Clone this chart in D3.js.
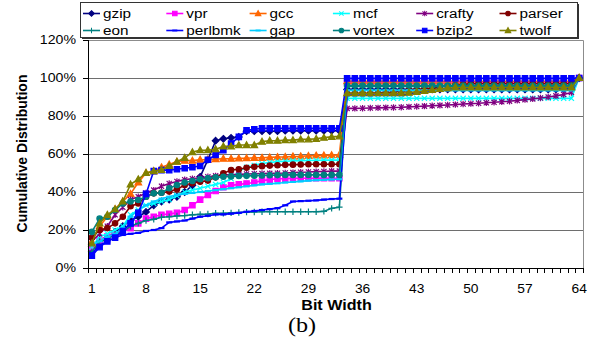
<!DOCTYPE html>
<html>
<head>
<meta charset="utf-8">
<script src="https://cdn.jsdelivr.net/npm/d3@7"></script>
<style>
body { margin: 0; background: #fff; }
svg { display: block; }
</style>
</head>
<body>
<script>
var W = 593, H = 341;

// categories: bit width 1..64
var bits = d3.range(1, 65);
var xTickLabels = [1, 8, 15, 22, 29, 36, 43, 50, 57, 64];
var yTickValues = [0, 20, 40, 60, 80, 100, 120];

var names = ["gzip", "vpr", "gcc", "mcf", "crafty", "parser", "eon", "perlbmk", "gap", "vortex", "bzip2", "twolf"];
var colors = ["#000080", "#ff00ff", "#ff6600", "#00ffff", "#800080", "#800000", "#008080", "#0000ff", "#00ccff", "#008080", "#0000ff", "#808000"];
var markers = ["diamond", "square", "triangle", "x", "star", "circle", "plus", "dash", "dash", "circle", "square", "triangle"];

// cumulative distribution (%) per bit width
var gzip = [8.5,13,16,19,22,25,27,29.5,33,35,36,37.5,40,43.5,48,57,67,68,68.5,69,72,72,72,72,72,72.3,72.3,72.3,72.3,72.3,72.3,72.3,72.3,
  94,94,94,94,94,94,94,94,94,94,94,94,94,94,94,94,94,94,94,94,94,94,94,94,94,94,94,94,94,94,100];
var vpr = [11,14.5,16.5,17.5,19,21,23.5,26,27,28,28.5,29,30.5,33,36,38.5,40.5,42.5,43.5,44,44.5,45,46,46.5,47,47,47.2,47.2,47.2,47.2,47.2,47.2,47.2,
  97.5,97.5,97.5,97.5,97.5,97.5,97.5,97.5,97.5,97.5,97.5,97.5,97.5,97.5,97.5,97.5,97.5,97.5,97.5,97.5,97.5,97.5,97.5,97.5,97.5,97.5,97.5,97.5,97.5,97.5,100];
var gcc = [14,22,27,31,35,39,45,50,51,53,54.5,56,56.5,56.5,57,57,57.3,57.5,57.5,57.7,57.8,58,58,58.2,58.4,58.5,58.7,58.8,59,59.2,59.3,59.4,59.5,
  98.3,98.3,98.3,98.3,98.3,98.3,98.3,98.3,98.3,98.3,98.3,98.3,98.3,98.3,98.3,98.3,98.3,98.3,98.3,98.3,98.3,98.3,98.3,98.3,98.3,98.3,98.3,98.3,98.3,98.3,100];
var mcf = [11,16.5,18,20,22,28,30.5,33,34,35,36,38,40,41,42,43,44,45,47,51,53,54,55,55.5,56,56.2,56.4,56.5,56.6,56.7,56.8,56.8,56.8,
  89.3,89.3,89.3,89.3,89.3,89.3,89.3,89.3,89.3,89.3,89.3,89.3,89.3,89.3,89.3,89.3,89.3,89.3,89.3,89.3,89.3,89.3,89.3,89.3,89.3,89.3,89.3,89.3,89.3,89.3,100];
var crafty = [14,18,22,28,32,36,37.5,39.5,41,43,44.5,45.5,46.5,47,47.5,48,48.5,49,49,49.3,49.5,49.6,49.7,49.8,49.9,50,50.2,50.4,50.5,50.7,50.8,51,51,
  84,84,84.1,84.2,84.3,84.4,84.5,84.6,84.8,85,85.2,85.4,85.6,85.8,86,86.3,86.5,86.7,87,87.2,87.5,87.8,88.2,88.6,89,89.5,90,90.6,91.3,92.4,100];
var parser = [16,20,21,23.5,27,32.5,34,37.5,39.3,39.6,40.2,41.4,43.7,44.6,45.4,46,47.7,49.8,51.6,52,52.8,53.3,53.6,53.9,54.1,54.3,54.4,54.5,54.6,54.6,54.6,54.6,54.6,
  92,92,92,92,92.2,92.4,92.6,93,93.4,93.8,94.3,94.8,95.3,95.8,96.2,96.6,97,97,97,97,97,97,97,97,97,97,97,97,97,97,100];
var eon = [8.5,14,15.5,17.5,19,22,23.5,25,25.6,26.7,27,27.4,27.6,28,28.2,28.4,28.8,28.8,29,29.2,29.4,29.5,29.6,29.6,29.6,29.6,29.6,29.6,29.6,29.6,29.8,31.4,32,
  95.5,95.5,95.5,95.5,95.5,95.5,95.5,95.5,95.5,95.5,95.5,95.5,95.5,95.5,95.5,95.5,95.5,95.5,95.5,95.5,95.5,95.5,95.5,95.5,95.5,95.5,95.5,95.5,95.5,95.5,100];
var perlbmk = [7.5,12,14,16,17.4,18,18.5,19.5,20,21,24,24.5,25,26,27,27.5,28.2,28.2,28.6,29,29.6,30,30.5,31,31.5,33,35,35.2,35.4,35.6,36,36.3,36.5,
  91,91,91,91,91,91,91,91,91.5,92,92.5,93,93.5,94,94.3,94.5,94.5,94.5,94.5,94.5,94.5,94.5,94.5,94.5,94.5,94.5,94.5,94.5,94.5,94.5,100];
var gap = [12,14,16.5,18,21,27,30.5,33,35,36.5,37.5,38.5,39,39.5,40,40.5,41,41.5,42,42.5,43,43.5,44,44.3,44.6,45,45.3,45.6,46,46.2,46.4,46.6,46.7,
  93.5,93.5,93.5,93.5,93.5,93.5,93.5,93.5,93.5,93.5,93.5,93.5,93.5,93.5,93.5,93.5,93.5,93.5,93.5,93.5,93.5,93.5,93.5,93.5,93.5,93.5,93.5,93.5,93.5,93.5,100];
var vortex = [19,26,27,30.5,34,35,35.8,37.5,39.3,39.6,42,43.7,45,45.8,46.7,47.2,47.7,48,48.2,48.4,48.5,48.6,48.7,48.8,48.9,49,49,49,49,49,49,49,49,
  96,96,96,96,96,96,96,96,96,96,96,96,96,96,96,96,96,96,96,96,96,96,96,96,96,96,96,96,96,96,100];
var bzip2 = [6.5,11,14,16,19.5,23.5,29,39,51,51.5,51.5,52,52.5,53,53.7,57,59.5,62,65.5,69,72.5,73,73.5,73.5,73.5,73.5,73.5,73.5,73.5,73.5,73.5,73.5,73.5,
  99.8,99.8,99.8,99.8,99.8,99.8,99.8,99.8,99.8,99.8,99.8,99.8,99.8,99.8,99.8,99.8,99.8,99.8,99.8,99.8,99.8,99.8,99.8,99.8,99.8,99.8,99.8,99.8,99.8,99.8,100];
var twolf = [13,23.5,28,31,35,44,46.7,50,51,51.6,53.7,56,58,61,62,62,62.5,64,64,64.7,64.7,64.7,66.5,67,67,67.3,67.3,67.7,67.7,68,68.6,69,69.3,
  92,92,92,92,92,92,92,92,92.3,92.7,93.2,93.7,94.2,94.6,95,95,95,95,95,95,95,95,95,95,95,95,95,95,95,95,100];

var seriesValues = [gzip, vpr, gcc, mcf, crafty, parser, eon, perlbmk, gap, vortex, bzip2, twolf];

var font = "Arial, 'Liberation Sans', sans-serif";
var stretch = 1.15; // text in the picture is a little wider than tall

var svg = d3.select("body").append("svg")
  .attr("width", W)
  .attr("height", H);

var plotLeft = 88, plotRight = 583, plotTop = 40, plotBottom = 268;

var x = d3.scaleBand().domain(bits).range([plotLeft, plotRight]).paddingInner(0).paddingOuter(0);
var y = d3.scaleLinear().domain([0, 120]).range([plotBottom, plotTop]);

function cx(d) { return x(d) + x.bandwidth() / 2; }

function addText(g, tx, ty, str, size, anchor, weight, family, sx) {
  g.append("g")
    .attr("transform", "translate(" + tx + "," + ty + ") scale(" + sx + ",1)")
    .append("text")
    .attr("text-anchor", anchor)
    .style("font-family", family)
    .style("font-size", size + "px")
    .style("font-weight", weight)
    .attr("fill", "#000")
    .text(str);
}

function markerPath(type) {
  switch(type) {
    case "square": return "M-2.7,-2.7h5.4v5.4h-5.4z";
    case "diamond": return "M0,-3.3L3.3,0L0,3.3L-3.3,0Z";
    case "triangle": return "M0,-3.4L3.3,2.5L-3.3,2.5Z";
    case "circle": return "M2.7,0A2.7,2.7 0 1,1 -2.7,0A2.7,2.7 0 1,1 2.7,0Z";
    case "x": return "M-2.6,-2.6L2.6,2.6M-2.6,2.6L2.6,-2.6";
    case "star": return "M-2.6,-2.6L2.6,2.6M-2.6,2.6L2.6,-2.6M0,-3.2L0,3.2";
    case "plus": return "M-3.2,0H3.2M0,-3.2V3.2";
    case "dash": return "M-3,0H3";
  }
}
function isFilled(type) {
  return type === "square" || type === "diamond" || type === "triangle" || type === "circle";
}

// gridlines
svg.append("g").selectAll("line")
  .data([20, 40, 60, 80, 100])
  .enter()
  .append("line")
  .attr("x1", plotLeft)
  .attr("x2", plotRight)
  .attr("y1", d => Math.round(y(d)) + 0.5)
  .attr("y2", d => Math.round(y(d)) + 0.5)
  .attr("stroke", "#6e6e6e")
  .attr("stroke-width", 1);

// frame (top, right)
svg.append("path")
  .attr("d", "M" + plotLeft + "," + (plotTop + 0.5) + "H" + (plotRight + 0.5) + "V" + plotBottom)
  .attr("fill", "none")
  .attr("stroke", "#8c8c8c")
  .attr("stroke-width", 1);

// series
var lineGen = d3.line()
  .x((d, i) => cx(bits[i]))
  .y(d => y(d));

var plot = svg.append("g");
for(let k = 0; k < names.length; k++) {
  let g = plot.append("g");
  g.append("path")
    .datum(seriesValues[k])
    .attr("d", lineGen)
    .attr("fill", "none")
    .attr("stroke", colors[k])
    .attr("stroke-width", 1.6)
    .attr("stroke-linejoin", "round");
  g.selectAll("path.m")
    .data(seriesValues[k])
    .enter()
    .append("path")
    .attr("class", "m")
    .attr("transform", (d, i) => "translate(" + cx(bits[i]) + "," + y(d) + ")")
    .attr("d", markerPath(markers[k]))
    .attr("fill", isFilled(markers[k]) ? colors[k] : "none")
    .attr("stroke", colors[k])
    .attr("stroke-width", markers[k] === "dash" ? 2.2 : 1.2);
}

// axes
var axes = svg.append("g");
axes.append("line")
  .attr("x1", plotLeft + 0.5).attr("x2", plotLeft + 0.5)
  .attr("y1", plotTop).attr("y2", plotBottom + 5)
  .attr("stroke", "#000");
axes.append("line")
  .attr("x1", plotLeft - 5).attr("x2", plotRight + 1)
  .attr("y1", plotBottom + 0.5).attr("y2", plotBottom + 0.5)
  .attr("stroke", "#000");

// y ticks and labels
axes.selectAll("line.yt")
  .data(yTickValues)
  .enter()
  .append("line")
  .attr("class", "yt")
  .attr("x1", plotLeft - 5).attr("x2", plotLeft)
  .attr("y1", d => Math.round(y(d)) + 0.5)
  .attr("y2", d => Math.round(y(d)) + 0.5)
  .attr("stroke", "#000");
yTickValues.forEach(v => addText(axes, 76, y(v) + 4.3, v + "%", 12.3, "end", "normal", font, stretch));

// x ticks at category boundaries
var boundaries = bits.map(b => x(b)).concat([plotRight]);
axes.selectAll("line.xt")
  .data(boundaries)
  .enter()
  .append("line")
  .attr("class", "xt")
  .attr("x1", d => Math.round(d) + 0.5).attr("x2", d => Math.round(d) + 0.5)
  .attr("y1", plotBottom).attr("y2", plotBottom + 5)
  .attr("stroke", "#000");
xTickLabels.forEach(v => addText(axes, cx(v), 292.5, String(v), 12, "middle", "normal", font, stretch));

// axis titles
addText(svg, (plotLeft + plotRight) / 2 + 1, 310, "Bit Width", 14, "middle", "bold", font, stretch);
svg.append("text")
  .attr("transform", "translate(26.5,153.5) rotate(-90)")
  .attr("text-anchor", "middle")
  .style("font-family", font)
  .style("font-size", "14px")
  .style("font-weight", "bold")
  .text("Cumulative Distribution");

addText(svg, 302, 331.5, "(b)", 21, "middle", "normal", "'Liberation Serif', 'Times New Roman', serif", 1.15);

// legend
var legend = svg.append("g");
legend.append("rect")
  .attr("x", 82).attr("y", 4).attr("width", 497).attr("height", 35)
  .attr("fill", "#333");
legend.append("rect")
  .attr("x", 80.5).attr("y", 2.5).attr("width", 497).attr("height", 35)
  .attr("fill", "#fff")
  .attr("stroke", "#333");
for(let k = 0; k < names.length; k++) {
  let col = k % 6, row = Math.floor(k / 6);
  let lx = 83 + col * 83.3, ly = 13.5 + row * 17;
  let item = legend.append("g");
  item.append("line")
    .attr("x1", lx).attr("x2", lx + 17)
    .attr("y1", ly).attr("y2", ly)
    .attr("stroke", colors[k])
    .attr("stroke-width", 1.6);
  item.append("path")
    .attr("transform", "translate(" + (lx + 8.5) + "," + ly + ") scale(0.85)")
    .attr("d", markerPath(markers[k]))
    .attr("fill", isFilled(markers[k]) ? colors[k] : "none")
    .attr("stroke", colors[k])
    .attr("stroke-width", markers[k] === "dash" ? 2.2 : 1.2);
  addText(item, lx + 20, ly + 4.8, names[k], 13.3, "start", "normal", font, stretch);
}
</script>
</body>
</html>
